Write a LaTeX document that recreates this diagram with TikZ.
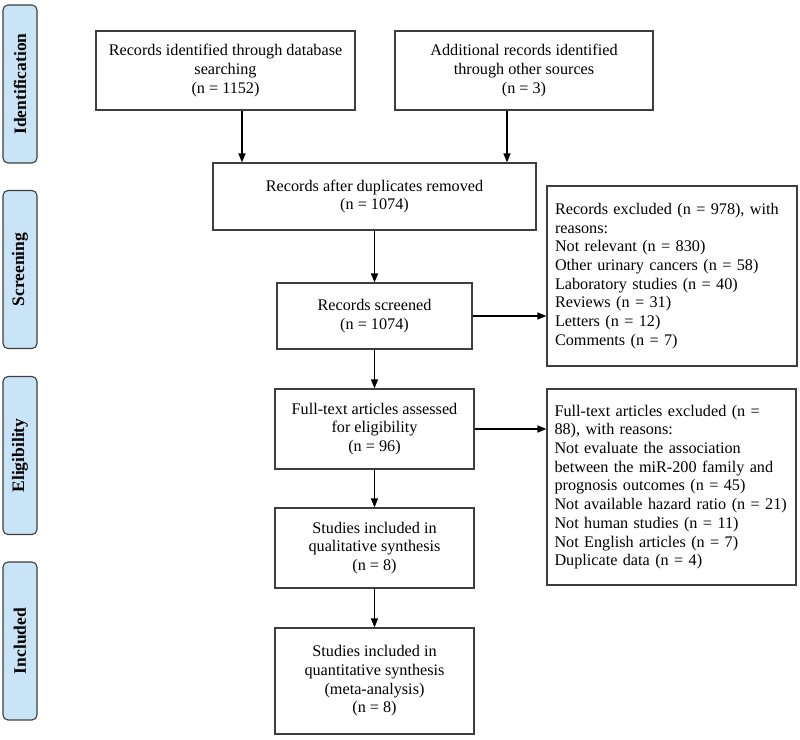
\documentclass[tikz,border=0pt]{standalone}
\usepackage{fontspec}
\setmainfont{Liberation Serif}
\usepackage{tikz}
\usepackage{color}
\definecolor{phase-blue}{RGB}{202,228,247}
\definecolor{line-grey}{RGB}{62,62,62}
\usetikzlibrary{positioning,arrows.meta}

\begin{document}
\begin{tikzpicture}[x=1pt,y=-1pt,font=\fontsize{16.2}{18.7}\selectfont]
    \tikzstyle{box}=[draw=line-grey,line width=1.2pt,align=center,inner sep=0pt]
    \tikzstyle{excl}=[box,align=left,text width=234pt]
    \tikzstyle{phase}=[draw=line-grey,line width=1.1pt,fill=phase-blue,rounded corners=5pt,
        minimum width=34pt,minimum height=158pt,inner sep=0pt]
    \tikzstyle{arr}=[-{Triangle[length=9pt,width=7pt]},line width=1.5pt,draw=black]
    \useasboundingbox (0,0) rectangle (800,739);

    % phases on the left
    \node[phase] (pid) at (20,84) {};
    \node[phase] (psc) at (20,269.5) {};
    \node[phase] (pel) at (20,455.5) {};
    \node[phase] (pin) at (20,641) {};
    \foreach \p/\t in {pid/Identification,psc/Screening,pel/Eligibility,pin/Included}
        \node[rotate=90,font=\fontsize{17.5}{19}\selectfont\bfseries] at (\p) {\t};

    % flow boxes
    \node[box,minimum width=259pt,minimum height=79pt] (ident) at (225.5,70.5)
        {Records identified through database\\searching\\(n = 1152)};
    \node[box,minimum width=258pt,minimum height=79pt] (other) at (524,70.5)
        {Additional records identified\\through other sources\\(n = 3)};
    \node[box,minimum width=323pt,minimum height=67pt] (dup) at (374.5,196.5)
        {Records after duplicates removed\\(n = 1074)};
    \node[box,minimum width=195pt,minimum height=66pt] (screen) at (374.5,316)
        {Records screened\\(n = 1074)};
    \node[box,minimum width=199pt,minimum height=80pt] (full) at (374.5,429)
        {Full-text articles assessed\\for eligibility\\(n = 96)};
    \node[box,minimum width=199pt,minimum height=80pt] (qual) at (374.5,548)
        {Studies included in\\qualitative synthesis\\(n = 8)};
    \node[box,minimum width=199pt,minimum height=106pt] (quant) at (374.5,681)
        {Studies included in\\quantitative synthesis\\(meta-analysis)\\(n = 8)};

    % exclusion boxes
    \node[excl,minimum width=250pt,minimum height=180pt] (exone) at (672,276)
        {Records excluded (n = 978), with\\reasons:\\Not relevant (n = 830)\\Other urinary cancers (n = 58)\\
         Laboratory studies (n = 40)\\Reviews (n = 31)\\Letters (n = 12)\\Comments (n = 7)};
    \node[excl,minimum width=249pt,minimum height=196pt] (extwo) at (671.5,487)
        {Full-text articles excluded (n =\\88), with reasons:\\Not evaluate the association\\
         between the miR-200 family and\\prognosis outcomes (n = 45)\\Not available hazard ratio (n = 21)\\
         Not human studies (n = 11)\\Not English articles (n = 7)\\Duplicate data (n = 4)};

    % arrows
    \draw[arr] ([xshift=16.5pt]ident.south) -- ([xshift=16.5pt]ident.south |- dup.north);
    \draw[arr] ([xshift=-17pt]other.south) -- ([xshift=-17pt]other.south |- dup.north);
    \draw[arr] (dup) -- (screen);
    \draw[arr] (screen) -- (full);
    \draw[arr] (full) -- (qual);
    \draw[arr] (qual) -- (quant);
    \draw[arr] (screen.east) -- (screen.east -| exone.west);
    \draw[arr] (full.east) -- (full.east -| extwo.west);
\end{tikzpicture}
\end{document}
